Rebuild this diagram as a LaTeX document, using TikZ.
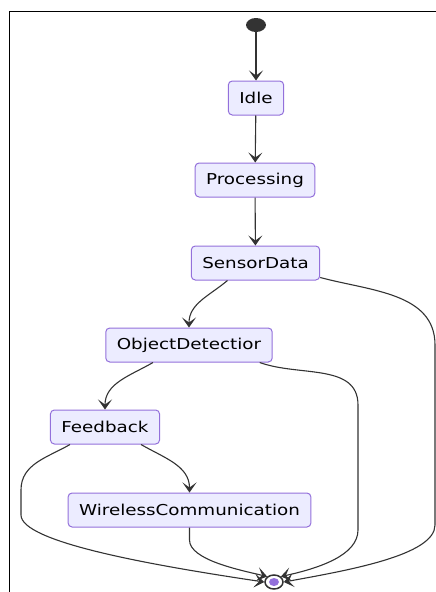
\documentclass[tikz,border=0pt]{standalone}
\usepackage{fontspec}
\setmainfont[FakeStretch=1.22]{DejaVu Sans}
\usetikzlibrary{arrows.meta,shapes.geometric}
\definecolor{stfill}{HTML}{ECECFF}
\definecolor{stline}{HTML}{9370DB}
\definecolor{linegray}{HTML}{333333}
\tikzset{
  state/.style={draw=stline,fill=stfill,line width=1pt,rounded corners=4pt,
    minimum height=34pt,inner xsep=11pt,font=\fontsize{15}{18}\selectfont},
  trans/.style={draw=linegray,line width=1.1pt,
    -{Stealth[length=10pt,width=14pt,inset=5pt]}}
}
\begin{document}
\begin{tikzpicture}[x=1pt,y=1pt]
  \useasboundingbox (0,0) rectangle (436,-592);
  \draw[line width=1pt] (9.5,-592) -- (9.5,-11) -- (436,-11);
  % states
  \node[ellipse,fill=linegray,minimum width=20pt,minimum height=14pt,inner sep=0pt] (start) at (256,-25) {};
  \node[state] (idle) at (256,-98) {Idle};
  \node[state] (proc) at (255,-180) {Processing};
  \node[state] (sd) at (255.5,-263) {SensorData};
  \node[state] (od) at (189,-345) {ObjectDetectior};
  \node[state] (fb) at (105,-427) {Feedback};
  \node[state] (wc) at (189.5,-510) {WirelessCommunication};
  \node[ellipse,draw=linegray,line width=1.5pt,fill=white,minimum width=18pt,minimum height=14pt,inner sep=0pt] (fin) at (274,-582) {};
  \fill[stline] (fin.center) ellipse (5pt and 4pt);
  % transitions
  \draw[trans] (start) -- (idle);
  \draw[trans] (idle) -- (proc);
  \draw[trans] (proc) -- (sd);
  \draw[trans] ([xshift=-28pt]sd.south) to[out=-140,in=90] (od.north);
  \draw[trans] ([xshift=-36pt]od.south) to[out=-150,in=90] (fb.north);
  \draw[trans] ([xshift=36pt]fb.south) to[out=-30,in=90] (wc.north);
  \draw[trans] ([yshift=3pt]sd.south east) to[out=-15,in=90] (435,-345) -- (435,-525)
    .. controls (435,-555) and (350,-570) .. (fin.east);
  \draw[trans] ([xshift=-13pt]od.south east) to[out=-20,in=90] (358,-405) -- (358,-530)
    .. controls (358,-555) and (320,-568) .. (fin.north east);
  \draw[trans] ([xshift=-35pt]fb.south) to[out=-150,in=90] (21,-490) -- (21,-515)
    .. controls (21,-542) and (150,-565) .. (fin.west);
  \draw[trans] (wc.south) -- (189.5,-540) .. controls (189.5,-560) and (240,-570) .. (fin.north west);
\end{tikzpicture}
\end{document}
